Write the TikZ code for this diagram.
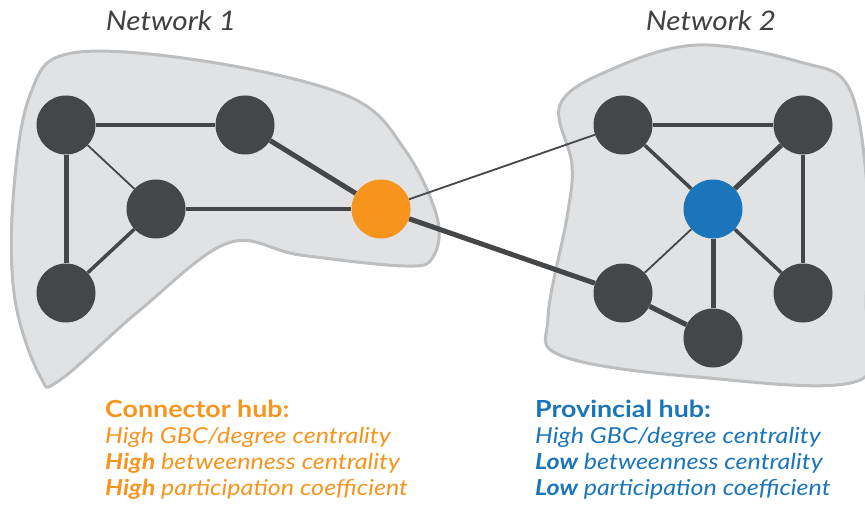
\documentclass[tikz,border=0pt]{standalone}
\usepackage{fontspec}
\setmainfont{Lato}
\usepackage{tikz}
\usetikzlibrary{positioning}
\definecolor{nodegray}{HTML}{454648}
\definecolor{hubor}{HTML}{F7941D}
\definecolor{hubbl}{HTML}{1B75BB}
\definecolor{blobfill}{HTML}{E1E2E3}
\definecolor{blobline}{HTML}{BDBEC0}
\definecolor{titlegray}{HTML}{414042}
\newcommand{\hubhead}[1]{{\fontsize{23.5}{26}\selectfont\bfseries\upshape #1}}
\tikzset{%
	blob/.style     = {fill=blobfill, draw=blobline, line width=3pt},
	vertex/.style   = {circle, fill=nodegray, minimum size=59pt, inner sep=0pt},
	connhub/.style  = {vertex, fill=hubor},
	provhub/.style  = {vertex, fill=hubbl},
	thinedge/.style = {draw=nodegray, line width=1.8pt},
	midedge/.style  = {draw=nodegray, line width=3.5pt},
	fatedge/.style  = {draw=nodegray, line width=5pt},
	nettitle/.style = {font=\fontsize{27}{30}\selectfont\itshape\addfontfeatures{FakeStretch=1.1}, text=titlegray},
	hubtext/.style  = {font=\fontsize{22}{26}\selectfont\itshape\addfontfeatures{FakeStretch=1.14}, align=left, anchor=north west, inner sep=0pt},
}
\begin{document}
\begin{tikzpicture}[x=1pt,y=-1pt]
	\useasboundingbox (0,0) rectangle (865,508);
	% the two module outlines
	\draw[blob] plot[smooth cycle,tension=0.6] coordinates {(72,53) (210,62) (350,97) (405,150) (437,217) (433,257) (405,266) (300,255) (228,243) (140,310) (60,380) (40,376) (15,300) (13,200) (30,95)};
	\draw[blob] plot[smooth cycle,tension=0.6] coordinates {(697,45) (800,62) (850,90) (868,200) (866,300) (860,380) (697,377) (562,356) (548,317) (567,217) (572,165) (560,105) (610,70)};
	% titles
	\node[nettitle] (t1) at (171,21) {Network 1};
	\node[nettitle] (t2) at (711,21) {Network 2};
	% network 1
	\node[vertex] (a) at (66,125) {};
	\node[vertex] (b) at (245,125) {};
	\node[vertex] (c) at (156,209) {};
	\node[vertex] (d) at (66,293) {};
	\node[connhub] (hub1) at (381,209) {};
	% network 2
	\node[vertex] (e) at (623,125) {};
	\node[vertex] (f) at (803,125) {};
	\node[provhub] (hub2) at (713,209) {};
	\node[vertex] (h) at (623,293) {};
	\node[vertex] (i) at (713,338) {};
	\node[vertex] (j) at (803,293) {};
	% edges
	\draw[midedge] (a) -- (b);
	\draw[thinedge] (a) -- (c);
	\draw[fatedge] (a) -- (d);
	\draw[midedge] (c) -- (d);
	\draw[midedge] (c) -- (hub1);
	\draw[fatedge] (b) -- (hub1);
	\draw[midedge] (e) -- (f);
	\draw[midedge] (e) -- (hub2);
	\draw[fatedge] (f) -- (hub2);
	\draw[midedge] (f) -- (j);
	\draw[thinedge] (hub2) -- (h);
	\draw[fatedge] (hub2) -- (i);
	\draw[midedge] (hub2) -- (j);
	\draw[fatedge] (h) -- (i);
	\draw[thinedge] (hub1) -- (e);
	\draw[fatedge] (hub1) -- (h);
	% legends
	\node[hubtext, text=hubor] (conn) at (105,400) {\hubhead{Connector hub:}\\High GBC/degree centrality\\{\bfseries High} betweenness centrality\\{\bfseries High} participation coefficient};
	\node[hubtext, text=hubbl] (prov) at (535,400) {\hubhead{Provincial hub:}\\High GBC/degree centrality\\{\bfseries Low} betweenness centrality\\{\bfseries Low} participation coefficient};
\end{tikzpicture}
\end{document}
